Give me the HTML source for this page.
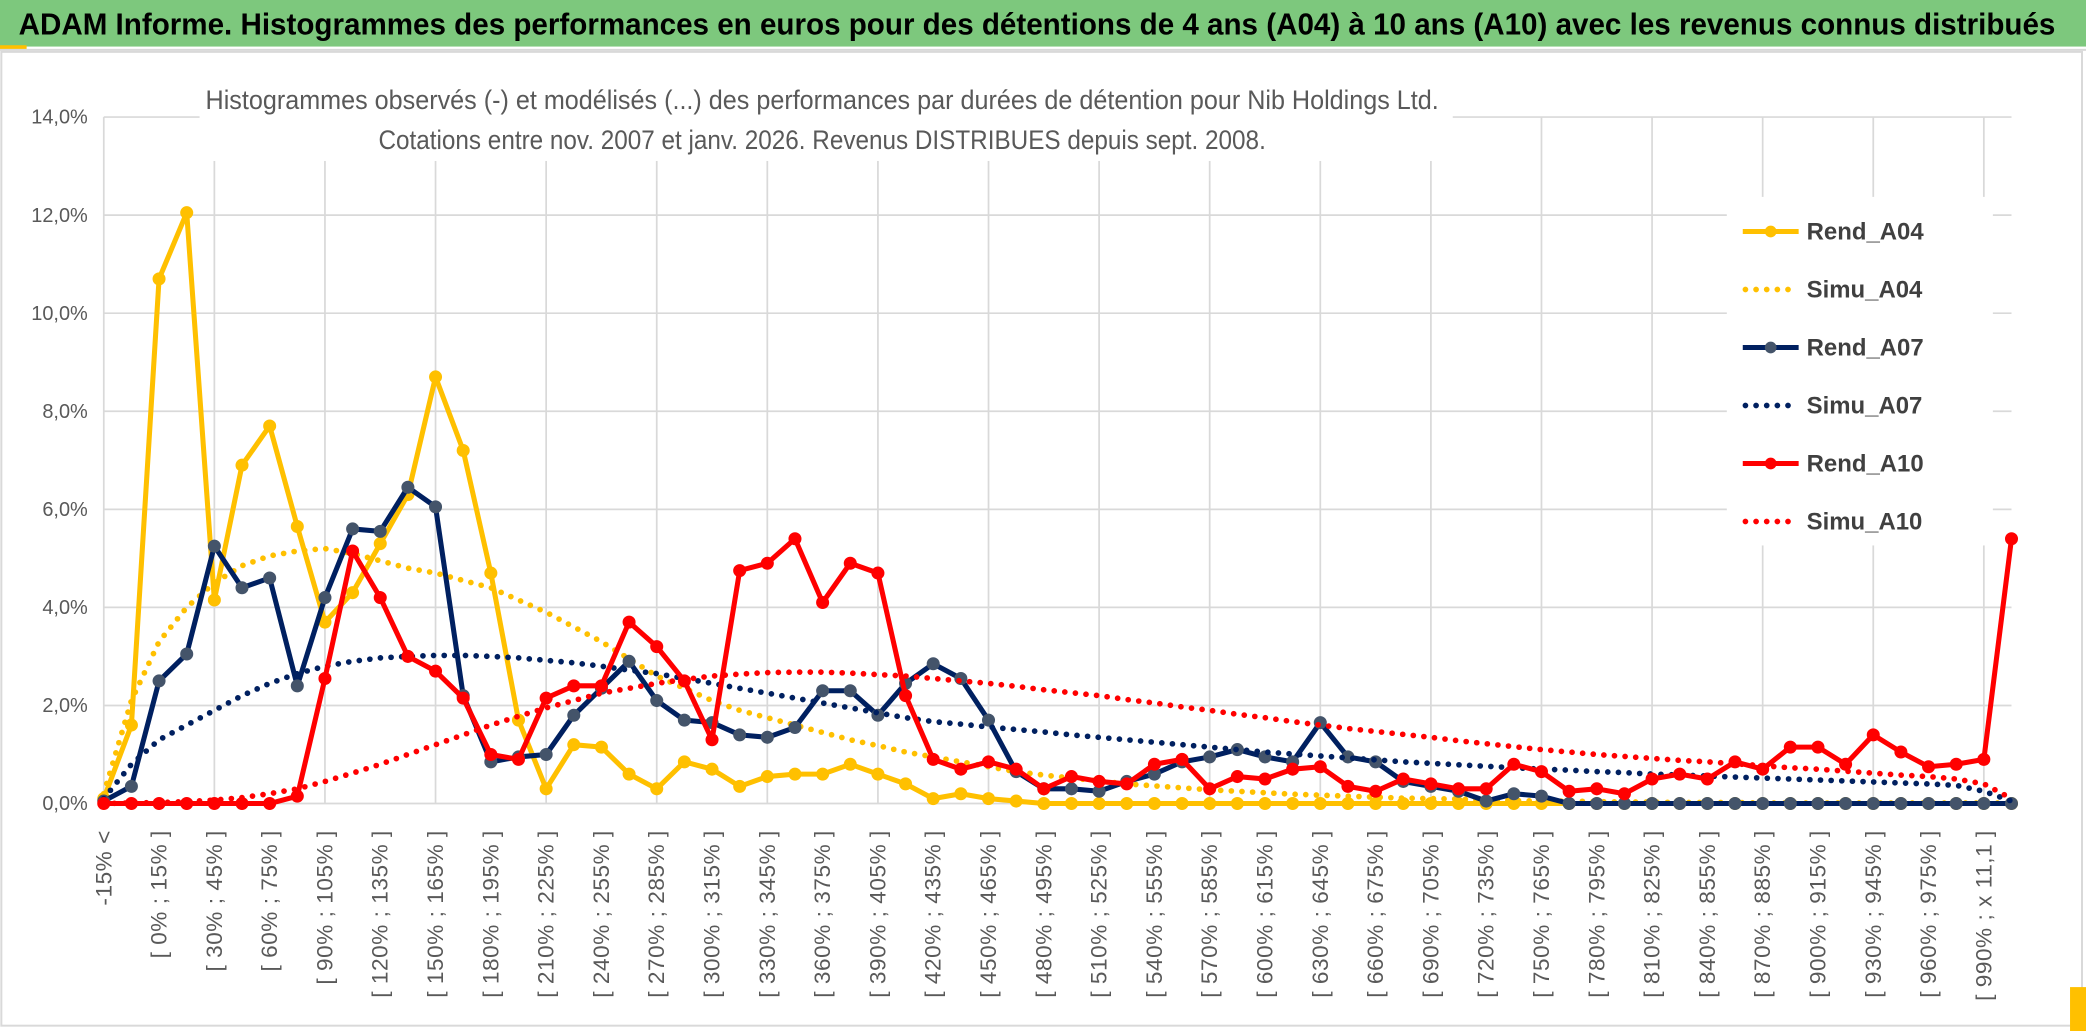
<!DOCTYPE html>
<html><head><meta charset="utf-8">
<style>
html,body{margin:0;padding:0;background:#fff;}
svg{display:block;font-family:"Liberation Sans",sans-serif;}
</style></head>
<body>
<svg id="chart" width="2086" height="1031" viewBox="0 0 1568 775" preserveAspectRatio="none" xmlns="http://www.w3.org/2000/svg">
  <rect x="0" y="0" width="1568" height="775" fill="#ffffff"/>
  <rect x="0" y="0" width="1568" height="35" fill="#7DC87D"/>
  <text x="14" y="26" font-size="23" font-weight="bold" fill="#000" textLength="1531" lengthAdjust="spacingAndGlyphs" font-family="'Liberation Sans Narrow','Liberation Sans',sans-serif">ADAM Informe. Histogrammes des performances en euros pour des détentions de 4 ans (A04) à 10 ans (A10) avec les revenus connus distribués</text>
  <rect x="0" y="34" width="20" height="3" fill="#FFC000"/>
  <line x1="0" y1="37.5" x2="1568" y2="37.5" stroke="#d9d9d9" stroke-width="1.5"/>
  <rect x="1" y="39" width="1564" height="732" fill="none" stroke="#d9d9d9" stroke-width="1.5"/>
  <rect x="1556" y="742" width="12" height="33" fill="#FFC000"/>
  <g id="grid"></g>
  <rect x="150" y="55" width="942" height="66" fill="#fff"/>
  <text x="618" y="82" text-anchor="middle" font-size="20" fill="#595959" textLength="927" lengthAdjust="spacingAndGlyphs">Histogrammes observés (-) et modélisés (...) des performances par durées de détention pour Nib Holdings Ltd.</text>
  <text x="618" y="112" text-anchor="middle" font-size="20" fill="#595959" textLength="667" lengthAdjust="spacingAndGlyphs">Cotations entre nov. 2007 et janv. 2026. Revenus DISTRIBUES depuis sept. 2008.</text>
  <g id="yaxis"></g>
  <g id="xaxis"></g>
  <g id="series"></g>
  <g id="legend"></g>
</svg>
<script>
const yTicks = [0, 2, 4, 6, 8, 10, 12, 14];
const yTickLabels = ["0,0%", "2,0%", "4,0%", "6,0%", "8,0%", "10,0%", "12,0%", "14,0%"];
const categories = ["-15% <", "[ -15% ; 0% ]"];
for (let k = 0; k <= 66; k++) categories.push("[ " + (k * 15) + "% ; " + ((k + 1) * 15) + "% ]");
categories[68] = "[ 990% ; x 11,1 ]";
categories.push("x 11,1 <");
const rendA04 = [0.1,1.6,10.7,12.05,4.15,6.9,7.7,5.65,3.7,4.3,5.3,6.3,8.7,7.2,4.7,1.7,0.3,1.2,1.15,0.6,0.3,0.85,0.7,0.35,0.55,0.6,0.6,0.8,0.6,0.4,0.1,0.2,0.1,0.05,0,0,0,0,0,0,0,0,0,0,0,0,0,0,0,0,0,0,0,0,0,0,0,0,0,0,0,0,0,0,0,0,0,0,0,0];
const simuA04 = [0.2,2.1,3.3,4.0,4.5,4.85,5.05,5.15,5.2,5.1,4.95,4.8,4.7,4.55,4.4,4.15,3.9,3.6,3.3,2.95,2.6,2.35,2.1,1.9,1.75,1.6,1.45,1.3,1.18,1.05,0.95,0.85,0.75,0.65,0.58,0.52,0.46,0.4,0.36,0.32,0.28,0.25,0.22,0.19,0.17,0.15,0.13,0.11,0.1,0.09,0.07,0.06,0.05,0.05,0.04,0.03,0.03,0.02,0.02,0.02,0.01,0.01,0.01,0.01,0.01,0.01,0.01,0.01,0.01,0.01];
const rendA07 = [0.05,0.35,2.5,3.05,5.25,4.4,4.6,2.4,4.2,5.6,5.55,6.45,6.05,2.2,0.85,0.95,1.0,1.8,2.35,2.9,2.1,1.7,1.65,1.4,1.35,1.55,2.3,2.3,1.8,2.45,2.85,2.55,1.7,0.65,0.3,0.3,0.25,0.45,0.6,0.85,0.95,1.1,0.95,0.85,1.65,0.95,0.85,0.45,0.35,0.25,0.05,0.2,0.15,0,0,0,0,0,0,0,0,0,0,0,0,0,0,0,0,0];
const simuA07 = [0.1,0.8,1.3,1.6,1.9,2.2,2.45,2.65,2.8,2.9,2.97,3.0,3.02,3.02,3.0,2.97,2.92,2.87,2.8,2.72,2.65,2.55,2.45,2.35,2.25,2.15,2.05,1.95,1.85,1.75,1.67,1.62,1.56,1.51,1.46,1.4,1.35,1.3,1.25,1.2,1.15,1.1,1.05,1.01,0.97,0.93,0.89,0.85,0.82,0.79,0.76,0.73,0.7,0.68,0.65,0.63,0.6,0.58,0.56,0.54,0.52,0.5,0.48,0.46,0.44,0.42,0.4,0.37,0.25,0.05];
const rendA10 = [0,0,0,0,0,0,0,0.15,2.55,5.15,4.2,3.0,2.7,2.15,1.0,0.9,2.15,2.4,2.4,3.7,3.2,2.5,1.3,4.75,4.9,5.4,4.1,4.9,4.7,2.2,0.9,0.7,0.85,0.7,0.3,0.55,0.45,0.4,0.8,0.9,0.3,0.55,0.5,0.7,0.75,0.35,0.25,0.5,0.4,0.3,0.3,0.8,0.65,0.25,0.3,0.2,0.5,0.6,0.5,0.85,0.7,1.15,1.15,0.8,1.4,1.05,0.75,0.8,0.9,5.4];
const simuA10 = [0,0.01,0.02,0.04,0.07,0.12,0.2,0.3,0.45,0.62,0.8,1.0,1.2,1.4,1.6,1.78,1.95,2.1,2.25,2.35,2.45,2.53,2.6,2.64,2.67,2.68,2.68,2.66,2.63,2.6,2.55,2.5,2.45,2.39,2.32,2.26,2.2,2.12,2.05,1.97,1.9,1.82,1.75,1.67,1.6,1.53,1.47,1.41,1.35,1.28,1.22,1.16,1.1,1.05,1.0,0.96,0.92,0.88,0.85,0.81,0.77,0.73,0.7,0.66,0.62,0.58,0.55,0.5,0.4,0.1];
const seriesNames = ["Rend_A04", "Simu_A04", "Rend_A07", "Simu_A07", "Rend_A10", "Simu_A10"];

const NS = "http://www.w3.org/2000/svg";
const X0 = 78, X1 = 1512, Y0 = 604, YTOP = 88, YMAX = 14;
function xs(i) { return X0 + (X1 - X0) * i / (categories.length - 1); }
function ys(v) { return Y0 - (Y0 - YTOP) * v / YMAX; }
function mk(tag, attrs, parent) {
  const e = document.createElementNS(NS, tag);
  for (const k in attrs) e.setAttribute(k, attrs[k]);
  parent.appendChild(e);
  return e;
}
const grid = document.getElementById("grid");
yTicks.forEach(function (t) {
  const l = mk("line", {x1: X0, x2: X1, y1: ys(t), y2: ys(t), stroke: "#d9d9d9", "stroke-width": 1.3}, grid);
  
  
});
for (let i = 0; i < categories.length; i += 4) {
  const l = mk("line", {x1: xs(i), x2: xs(i), y1: YTOP, y2: Y0, stroke: "#d9d9d9", "stroke-width": 1.3}, grid);
  
  
}
const ya = document.getElementById("yaxis");
yTicks.forEach(function (t, i) {
  const tx = mk("text", {x: 66, y: ys(t) + 5, "text-anchor": "end", "font-size": 15, fill: "#595959"}, ya);
  tx.textContent = yTickLabels[i];
  
  
});
const xa = document.getElementById("xaxis");
for (let i = 0; i < categories.length; i += 2) {
  const x = xs(i), y = 624;
  const tx = mk("text", {x: x, y: y, "text-anchor": "end", "font-size": 17, "letter-spacing": 0.4, fill: "#595959", "dominant-baseline": "central", transform: "rotate(-90 " + x + " " + y + ")"}, xa);
  tx.textContent = categories[i];
  
  
}
const sg = document.getElementById("series");
function drawSolid(vals, color, mcolor, name) {
  const g = mk("g", {}, sg);
  
  
  const pts = vals.map(function (v, i) { return xs(i) + "," + ys(v); }).join(" ");
  mk("polyline", {points: pts, fill: "none", stroke: color, "stroke-width": 3.8, "stroke-linejoin": "round"}, g);
  vals.forEach(function (v, i) {
    const c = mk("circle", {cx: xs(i), cy: ys(v), r: 4.4, fill: mcolor, stroke: mcolor}, g);
    
    
  });
}
function drawDotted(vals, color, name) {
  const pts = vals.map(function (v, i) { return xs(i) + "," + ys(v); }).join(" ");
  const p = mk("polyline", {points: pts, fill: "none", stroke: color, "stroke-width": 4.3, "stroke-linecap": "round", "stroke-dasharray": "0 8"}, sg);
  
  
}
drawSolid(rendA04, "#FFC000", "#FFC000", "series-rend-a04");
drawDotted(simuA04, "#FFC000", "series-simu-a04");
drawSolid(rendA07, "#002060", "#44546A", "series-rend-a07");
drawDotted(simuA07, "#002060", "series-simu-a07");
drawSolid(rendA10, "#FF0000", "#FF0000", "series-rend-a10");
drawDotted(simuA10, "#FF0000", "series-simu-a10");

const lg = document.getElementById("legend");
mk("rect", {x: 1298, y: 148, width: 200, height: 262, fill: "#fff"}, lg);
const lgColors = ["#FFC000", "#FFC000", "#002060", "#002060", "#FF0000", "#FF0000"];
const lgMarker = ["#FFC000", null, "#44546A", null, "#FF0000", null];
seriesNames.forEach(function (n, i) {
  const y = 174 + i * 43.6;
  const g = mk("g", {}, lg);
  
  
  if (lgMarker[i]) {
    mk("line", {x1: 1310, x2: 1352, y1: y, y2: y, stroke: lgColors[i], "stroke-width": 3.8}, g);
    mk("circle", {cx: 1331, cy: y, r: 4.4, fill: lgMarker[i]}, g);
  } else {
    mk("line", {x1: 1312, x2: 1352, y1: y, y2: y, stroke: lgColors[i], "stroke-width": 4.3, "stroke-linecap": "round", "stroke-dasharray": "0 8"}, g);
  }
  const t = mk("text", {x: 1358, y: y + 6, "font-size": 18, "font-weight": "bold", fill: "#404040"}, g);
  t.textContent = n;
});
</script>
</body></html>
